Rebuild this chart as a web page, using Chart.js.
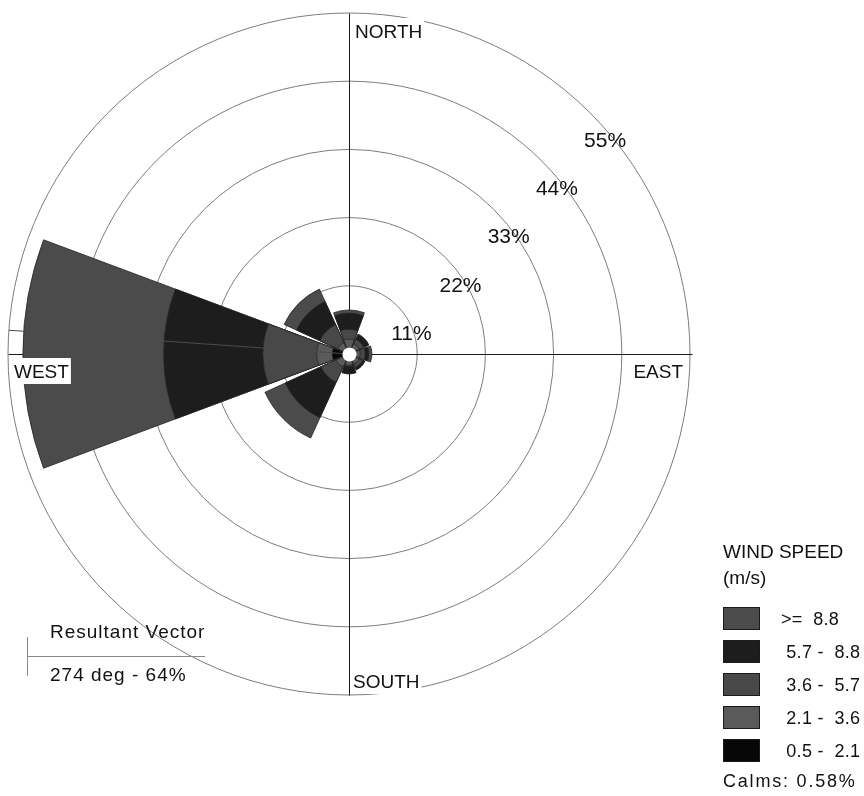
<!DOCTYPE html>
<html>
<head>
<meta charset="utf-8">
<title>Wind Rose</title>
<script src="https://cdn.jsdelivr.net/npm/chart.js@4/dist/chart.umd.min.js"></script>
<style>
  html, body { margin: 0; padding: 0; background: #ffffff; }
  #wrap { width: 864px; height: 796px; position: relative; }
</style>
</head>
<body>
<div id="wrap"><canvas id="rose" width="864" height="796"></canvas></div>
<script>
// ---- Data -------------------------------------------------------------
const directions = ['N', 'NE', 'E', 'SE', 'S', 'SW', 'W', 'NW'];

// Frequency (%) of each wind speed class per direction
const freq_05_21 = [1.0, 0.8, 0.8, 0.8, 0.8, 0.8, 2.7, 0.5];
const freq_21_36 = [1.4, 1.0, 1.0, 1.0, 1.0, 1.5, 2.5, 1.5];
const freq_36_57 = [1.6, 0.8, 0.8, 0.6, 0.2, 2.7, 8.7, 3.2];
const freq_57_88 = [2.6, 0.9, 0.6, 0.4, 1.2, 6.3, 16.0, 4.1];
const freq_88_up = [0.5, 0.0, 0.5, 0.0, 0.0, 3.6, 22.7, 2.2];

const speedLabels = [' 0.5 -  2.1', ' 2.1 -  3.6', ' 3.6 -  5.7', ' 5.7 -  8.8', '>=  8.8'];
const speedColors = ['#070707', '#5a5a5a', '#484848', '#1d1d1d', '#4b4b4b'];

const ringTicks = [11, 22, 33, 44, 55];
const calmsPct = 0.58;
const resultantDeg = 274;
const resultantPct = 64;

// ---- Styling constants ------------------------------------------------
const FONT = '"Liberation Sans", Arial, Helvetica, sans-serif';
const PETAL = 41;   // angular width of a petal (deg)
const GAP = 4;      // white wedge between petals (deg)
const HOLE = 7;     // radius of the calm circle (px)

Chart.defaults.font.family = FONT;

// Stack the speed classes outward: each dataset holds cumulative totals
const classFreqs = [freq_05_21, freq_21_36, freq_36_57, freq_57_88, freq_88_up];
const cumulative = [];
let running = directions.map(() => 0);
classFreqs.forEach(arr => {
  running = running.map((v, i) => +(v + arr[i]).toFixed(2));
  cumulative.push(running.slice());
});

// Every petal is followed by an empty gap slice
const sliceLabels = directions.flatMap(d => [d, '']);
const datasets = cumulative.map((cum, k) => ({
  label: speedLabels[k],
  data: cum.flatMap(v => [v, 0]),
  backgroundColor: speedColors[k],
  borderColor: '#262626',
  borderWidth: ctx => (ctx.dataIndex % 2 ? 0 : 0.8),
  angle: ctx => (ctx.dataIndex % 2 ? GAP : PETAL)
}));

// ---- Plugins ----------------------------------------------------------
const compassAxes = {
  id: 'compassAxes',
  beforeDatasetsDraw(chart) {
    const s = chart.scales.r;
    const ctx = chart.ctx;
    const R = s.getDistanceFromCenterForValue(ringTicks[ringTicks.length - 1]);
    const cx = s.xCenter + 0.5, cy = s.yCenter + 0.5;
    ctx.save();
    ctx.strokeStyle = '#1a1a1a';
    ctx.lineWidth = 1;
    ctx.beginPath();
    ctx.moveTo(cx, cy - R); ctx.lineTo(cx, cy + R);
    ctx.moveTo(cx - R, cy); ctx.lineTo(cx + R + 2, cy);
    ctx.stroke();
    ctx.restore();
  }
};

function boxedLabel(ctx, text, x, baseline, align) {
  ctx.textAlign = align;
  const w = ctx.measureText(text).width;
  const left = align === 'right' ? x - w : x;
  ctx.fillStyle = '#ffffff';
  ctx.fillRect(left - 2, baseline - 20, w + 4, 26);
  ctx.fillStyle = '#111111';
  ctx.fillText(text, x, baseline);
}

const decorations = {
  id: 'decorations',
  afterDatasetsDraw(chart) {
    const s = chart.scales.r;
    const ctx = chart.ctx;
    const cx = s.xCenter, cy = s.yCenter;
    const R = s.getDistanceFromCenterForValue(ringTicks[ringTicks.length - 1]);
    ctx.save();

    // resultant vector line (same tone as the outer band, so it shows on dark only)
    const a = resultantDeg * Math.PI / 180;
    ctx.strokeStyle = '#4b4b4b';
    ctx.lineWidth = 1;
    ctx.beginPath();
    ctx.moveTo(cx, cy);
    ctx.lineTo(cx + R * Math.sin(a), cy - R * Math.cos(a));
    ctx.stroke();

    // calm circle
    ctx.fillStyle = '#ffffff';
    ctx.beginPath();
    ctx.arc(cx + 0.5, cy + 0.5, HOLE, 0, Math.PI * 2);
    ctx.fill();

    // ring labels along the north-east diagonal
    ctx.font = '21px ' + FONT;
    ctx.fillStyle = '#111111';
    ctx.textAlign = 'left';
    ctx.textBaseline = 'alphabetic';
    ringTicks.forEach(v => {
      const r = s.getDistanceFromCenterForValue(v);
      const px = cx + r * Math.SQRT1_2, py = cy - r * Math.SQRT1_2;
      ctx.fillText(v + '%', px - 6, py + 34);
    });

    // compass labels
    ctx.font = '19px ' + FONT;
    boxedLabel(ctx, 'NORTH', cx + 6, cy - R + 25, 'left');
    boxedLabel(ctx, 'SOUTH', cx + 4, cy + R - 7, 'left');
    boxedLabel(ctx, 'WEST', cx - R + 6, cy + 24, 'left');
    boxedLabel(ctx, 'EAST', cx + R - 7, cy + 24, 'right');

    // resultant vector note
    ctx.strokeStyle = '#8a8a8a';
    ctx.beginPath();
    ctx.moveTo(27.5, 637); ctx.lineTo(27.5, 676);
    ctx.moveTo(27, 656.5); ctx.lineTo(205, 656.5);
    ctx.stroke();
    ctx.fillStyle = '#111111';
    ctx.textAlign = 'left';
    ctx.letterSpacing = '1px';
    ctx.fillText('Resultant Vector', 50, 638);
    ctx.fillText(resultantDeg + ' deg - ' + resultantPct + '%', 50, 681);
    ctx.letterSpacing = '0px';

    // legend
    const lx = 723;
    ctx.fillText('WIND SPEED', lx, 558);
    ctx.fillText('(m/s)', lx, 584);
    ctx.font = '18px ' + FONT;
    ctx.letterSpacing = '0.3px';
    for (let i = 0; i < speedLabels.length; i++) {
      const k = speedLabels.length - 1 - i;
      const y = 607 + 33 * i;
      ctx.fillStyle = speedColors[k];
      ctx.fillRect(lx, y, 37, 23);
      ctx.strokeStyle = '#1a1a1a';
      ctx.lineWidth = 1;
      ctx.strokeRect(lx + 0.5, y + 0.5, 36, 22);
      ctx.fillStyle = '#111111';
      ctx.fillText(speedLabels[k], 781, y + 18);
    }
    ctx.letterSpacing = '1.8px';
    ctx.fillText('Calms: ' + calmsPct.toFixed(2) + '%', lx, 787);
    ctx.letterSpacing = '0px';
    ctx.restore();
  }
};

// ---- Chart ------------------------------------------------------------
new Chart(document.getElementById('rose'), {
  type: 'polarArea',
  data: { labels: sliceLabels, datasets },
  options: {
    responsive: false,
    devicePixelRatio: 1,
    animation: false,
    events: [],
    layout: { padding: { left: 8, top: 13, right: 174, bottom: 101 } },
    plugins: { legend: { display: false }, tooltip: { enabled: false } },
    scales: {
      r: {
        min: 0,
        max: ringTicks[ringTicks.length - 1],
        startAngle: -PETAL / 2,
        afterBuildTicks: sc => { sc.ticks = [0, ...ringTicks].map(v => ({ value: v })); },
        ticks: { display: false },
        grid: { color: '#7c7c7c', lineWidth: 1 },
        angleLines: { display: false },
        pointLabels: { display: false }
      }
    }
  },
  plugins: [compassAxes, decorations]
});
</script>
</body>
</html>
